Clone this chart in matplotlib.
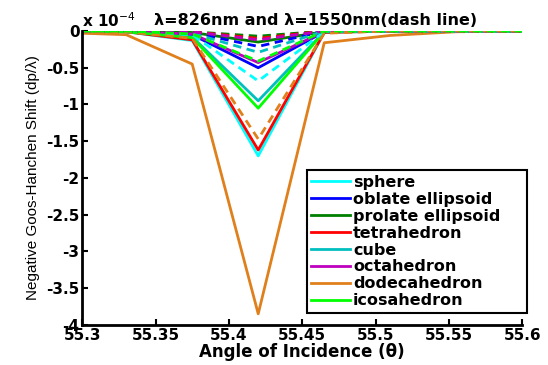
import matplotlib.pyplot as plt
from matplotlib.ticker import FuncFormatter

# angle of incidence (deg)
angle = [55.3, 55.33, 55.375, 55.42, 55.465, 55.51, 55.555, 55.6]

shapes = ["sphere", "oblate ellipsoid", "prolate ellipsoid", "tetrahedron",
          "cube", "octahedron", "dodecahedron", "icosahedron"]
colors = ["#00ffff", "#0000ff", "#008000", "#ff0000",
          "#00bfbf", "#bf00bf", "#e0801c", "#00ff00"]

# shift in units of 1e-4, lambda = 826 nm (solid)
gh_826 = {
    "sphere":            [0, -0.01, -0.13, -1.70, -0.02, 0, 0, 0],
    "oblate ellipsoid":  [0, -0.01, -0.05, -0.50, -0.01, 0, 0, 0],
    "prolate ellipsoid": [0, 0, -0.02, -0.15, -0.01, 0, 0, 0],
    "tetrahedron":       [0, -0.01, -0.12, -1.62, -0.02, 0, 0, 0],
    "cube":              [0, -0.01, -0.08, -0.95, -0.01, 0, 0, 0],
    "octahedron":        [0, -0.01, -0.04, -0.43, -0.01, 0, 0, 0],
    "dodecahedron":      [-0.03, -0.05, -0.45, -3.85, -0.16, -0.06, -0.01, 0],
    "icosahedron":       [0, -0.01, -0.09, -1.05, -0.01, 0, 0, 0],
}
# lambda = 1550 nm (dashed)
gh_1550 = {
    "sphere":            [0, 0, -0.05, -0.68, -0.01, 0, 0, 0],
    "oblate ellipsoid":  [0, 0, -0.02, -0.21, 0, 0, 0, 0],
    "prolate ellipsoid": [0, 0, -0.01, -0.07, 0, 0, 0, 0],
    "tetrahedron":       [0, 0, -0.01, -0.10, 0, 0, 0, 0],
    "cube":              [0, 0, -0.03, -0.29, 0, 0, 0, 0],
    "octahedron":        [0, 0, -0.01, -0.12, 0, 0, 0, 0],
    "dodecahedron":      [0, -0.01, -0.10, -1.47, -0.03, 0, 0, 0],
    "icosahedron":       [0, 0, -0.04, -0.41, 0, 0, 0, 0],
}

plt.rcParams['font.family'] = ['DejaVu Sans']

fig = plt.figure(figsize=(5.48, 3.65), dpi=100)
ax = fig.add_axes([0.15, 0.11, 0.803, 0.805])

for s, c in zip(shapes, colors):
    ax.plot(angle, gh_826[s], color=c, lw=2, label=s)
for s, c in zip(shapes, colors):
    ax.plot(angle, gh_1550[s], color=c, lw=2, ls=(0, (3, 2)))

ax.set_xlim(55.3, 55.6)
ax.set_ylim(-4, 0)
ax.set_xticks([55.3, 55.35, 55.4, 55.45, 55.5, 55.55, 55.6])
ax.set_yticks([0, -0.5, -1, -1.5, -2, -2.5, -3, -3.5, -4])
fmt = FuncFormatter(lambda v, p: ('%g' % v).replace('\u2212', '-'))
ax.xaxis.set_major_formatter(fmt)
ax.yaxis.set_major_formatter(fmt)
ax.tick_params(direction='in', length=4, width=1.5, labelsize=11, pad=2)
for lab in ax.get_xticklabels() + ax.get_yticklabels():
    lab.set_fontweight('bold')
ax.spines['top'].set_visible(False)
ax.spines['right'].set_visible(False)
ax.spines['left'].set_linewidth(2)
ax.spines['bottom'].set_linewidth(2)

ax.set_xlabel("Angle of Incidence (\u03b8)", fontsize=12, fontweight='bold', labelpad=0)
ax.set_ylabel("Negative Goos-Hanchen Shift (dp/\u03bb)", fontsize=11, labelpad=4,
              family='Liberation Sans')
ax.text(0.0, 1.005, "x 10$^{-4}$", transform=ax.transAxes, fontsize=11,
        fontweight='bold', ha='left', va='bottom')
ax.text(0.53, 1.01, "\u03bb=826nm and \u03bb=1550nm(dash line)", transform=ax.transAxes,
        fontsize=11.5, fontweight='bold', ha='center', va='bottom')

leg = ax.legend(loc='lower left', bbox_to_anchor=(0.51, 0.04, 0.5, 0.5),
                mode='expand', fancybox=False, framealpha=1, edgecolor='black',
                prop={'weight': 'bold', 'size': 11.5}, handlelength=2.4,
                handletextpad=0.2, labelspacing=0.12, borderpad=0.3, borderaxespad=0)
leg.get_frame().set_linewidth(1.5)

fig.savefig("out.png", dpi=100)
